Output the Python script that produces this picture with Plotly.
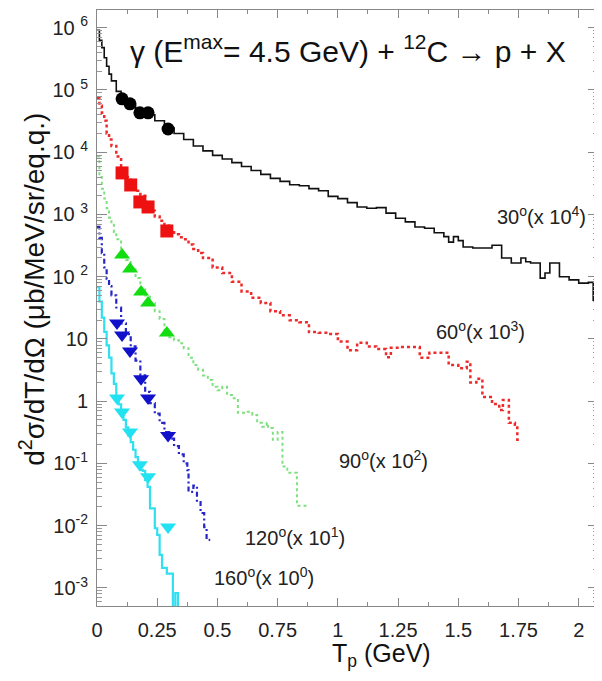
import plotly.graph_objects as go

# ---------------- data ----------------
# 30 deg (x 10^4) histogram: bin left edges (GeV) and values
x30 = [0.00, 0.01, 0.02, 0.03, 0.04, 0.05, 0.06, 0.08, 0.10, 0.12, 0.14, 0.16, 0.18, 0.20,
       0.24, 0.28, 0.32, 0.36, 0.40, 0.44, 0.48, 0.52, 0.56, 0.60, 0.64, 0.68, 0.72, 0.76,
       0.80, 0.84, 0.88, 0.92, 0.96, 1.00, 1.04, 1.08, 1.12, 1.16, 1.20, 1.24, 1.28, 1.32,
       1.36, 1.40, 1.44, 1.46, 1.48, 1.50, 1.52, 1.56, 1.60, 1.64, 1.68, 1.72, 1.76, 1.78,
       1.80, 1.84, 1.86, 1.88, 1.92, 1.96, 2.00, 2.04, 2.06]
y30 = [9.1e5, 6.3e5, 4.8e5, 3.3e5, 2.4e5, 1.8e5, 1.4e5, 9.5e4, 7.2e4, 6.3e4, 5.6e4, 5.1e4, 4.7e4, 4.0e4,
       3.2e4, 2.45e4, 2.0e4, 1.6e4, 1.26e4, 1.05e4, 8900, 7800, 6800, 5900, 5100, 4400, 3800, 3400,
       3000, 2900, 2600, 2400, 1950, 1800, 1550, 1320, 1260, 1290, 1050, 870, 760, 630,
       600, 510, 440, 360, 440, 380, 300, 290, 290, 320, 200, 166, 200, 174,
       166, 95, 115, 166, 100, 89, 79, 81, 42]
x30_end = 2.09

# 60 deg (x 10^3)
x60 = [0.00, 0.01, 0.02, 0.03, 0.04, 0.05, 0.06, 0.08, 0.10, 0.12, 0.14, 0.16, 0.18, 0.20,
       0.22, 0.24, 0.26, 0.28, 0.30, 0.32, 0.34, 0.36, 0.38, 0.40, 0.42, 0.44, 0.48, 0.52,
       0.56, 0.60, 0.64, 0.68, 0.72, 0.76, 0.80, 0.84, 0.88, 0.92, 0.96, 1.00, 1.04, 1.08,
       1.12, 1.16, 1.20, 1.22, 1.26, 1.30, 1.34, 1.38, 1.42, 1.46, 1.50, 1.535, 1.55, 1.575,
       1.60, 1.64, 1.67, 1.685, 1.71, 1.735, 1.745]
y60 = [74000, 56000, 43000, 32000, 20000, 16000, 12600, 8500, 5500, 4000, 3000, 2400, 2000, 1480,
       1150, 930, 790, 660, 575, 480, 430, 400, 330, 280, 240, 200, 141, 115,
       83, 58, 46, 38, 28, 24, 20, 18.6, 12.9, 12.6, 12, 9.1, 6.6, 8.7,
       7.6, 6.9, 5.1, 7.2, 7.4, 7.4, 5.0, 6.0, 6.0, 3.8, 3.4, 4.3, 2.0, 2.3,
       1.17, 0.9, 0.72, 1.05, 0.45, 0.42, 0.24]
x60_end = 1.755

# 90 deg (x 10^2)
x90 = [0.00, 0.01, 0.02, 0.03, 0.04, 0.05, 0.06, 0.07, 0.08, 0.10, 0.12, 0.14, 0.16, 0.18,
       0.20, 0.22, 0.24, 0.26, 0.28, 0.30, 0.32, 0.34, 0.36, 0.38, 0.40, 0.42, 0.44, 0.46,
       0.48, 0.50, 0.52, 0.54, 0.56, 0.585, 0.62, 0.645, 0.665, 0.685, 0.705, 0.71, 0.73,
       0.75, 0.77, 0.79, 0.83]
y90 = [8500, 4000, 2600, 1800, 1260, 890, 710, 525, 400, 250, 186, 132, 95, 66,
       50, 38, 28, 21, 14, 10.7, 9.5, 8.5, 7.1, 5.0, 3.8, 3.2, 2.6, 2.2,
       1.7, 1.5, 1.7, 1.26, 1.12, 0.65, 0.68, 0.60, 0.45, 0.39, 0.45, 0.37, 0.24,
       0.32, 0.089, 0.071, 0.021]
x90_end = 0.87

# 120 deg (x 10^1)
x120 = [0.00, 0.01, 0.02, 0.03, 0.04, 0.05, 0.06, 0.08, 0.10, 0.12, 0.14, 0.16, 0.18, 0.20,
        0.22, 0.24, 0.26, 0.28, 0.30, 0.32, 0.34, 0.36, 0.375, 0.38, 0.40, 0.415, 0.43,
        0.445, 0.455]
y120 = [630, 420, 240, 141, 93, 71, 50, 32, 17.8, 12, 7.6, 4.5, 2.6, 1.41,
        0.93, 0.63, 0.45, 0.32, 0.25, 0.19, 0.14, 0.10, 0.078, 0.035, 0.044, 0.024, 0.016,
        0.0095, 0.0059]
x120_end = 0.47

# 160 deg (x 10^0)
x160 = [0.00, 0.01, 0.02, 0.03, 0.04, 0.05, 0.06, 0.07, 0.08, 0.09, 0.10, 0.11, 0.12, 0.13,
        0.14, 0.15, 0.16, 0.17, 0.18, 0.19, 0.20, 0.21, 0.22, 0.24, 0.25, 0.26, 0.27, 0.29,
        0.315, 0.325, 0.336]
y160 = [68, 40, 22, 13, 7.9, 5.0, 2.8, 1.9, 1.2, 0.89, 0.66, 0.50, 0.38, 0.28,
        0.22, 0.166, 0.126, 0.095, 0.079, 0.076, 0.054, 0.042, 0.019, 0.0091, 0.0071, 0.0034,
        0.0021, 0.0017, 1e-5, 0.00083, 1e-5]
x160_end = 0.34

# measured points
xm30 = [0.104, 0.137, 0.178, 0.212, 0.295]
ym30 = [7.2e4, 6.0e4, 4.3e4, 4.3e4, 2.36e4]
xm60 = [0.104, 0.140, 0.178, 0.212, 0.290]
ym60 = [4650, 2980, 1590, 1320, 543]
xm90 = [0.104, 0.137, 0.183, 0.212, 0.290]
ym90 = [223, 133, 57, 38, 12.5]
xm120 = [0.083, 0.104, 0.137, 0.183, 0.212, 0.295]
ym120 = [18, 11.6, 6.4, 2.3, 1.13, 0.28]
xm160 = [0.083, 0.104, 0.137, 0.178, 0.212, 0.295]
ym160 = [1.13, 0.67, 0.32, 0.095, 0.061, 0.0095]

# axis ticks
ytickvals = [1e-3, 1e-2, 1e-1, 1, 10, 1e2, 1e3, 1e4, 1e5, 1e6]
yticktext = ["10<sup>-3</sup>", "10<sup>-2</sup>", "10<sup>-1</sup>", "1", "10",
             "10 <sup>2</sup>", "10 <sup>3</sup>", "10 <sup>4</sup>", "10 <sup>5</sup>", "10 <sup>6</sup>"]
xtickvals = [0, 0.25, 0.5, 0.75, 1, 1.25, 1.5, 1.75, 2]
xticktext = ["0", "0.25", "0.5", "0.75", "1", "1.25", "1.5", "1.75", "2"]

curve_labels = ["30<sup>o</sup>(x 10<sup>4</sup>)", "60<sup>o</sup>(x 10<sup>3</sup>)",
                "90<sup>o</sup>(x 10<sup>2</sup>)", "120<sup>o</sup>(x 10<sup>1</sup>)",
                "160<sup>o</sup>(x 10<sup>0</sup>)"]

# ---------------- figure ----------------
fig = go.Figure()

def add_hist(xs, ys, xend, color, width, dash):
    fig.add_trace(go.Scatter(x=list(xs) + [xend], y=list(ys) + [ys[-1]], mode="lines",
                             line=dict(color=color, width=width, dash=dash, shape="hv"),
                             showlegend=False, hoverinfo="skip"))

add_hist(x30, y30, x30_end, "#111111", 1.6, "solid")
add_hist(x60, y60, x60_end, "#ee2a2a", 2.5, "dot")
add_hist(x90, y90, x90_end, "#7fe07f", 2.0, "dot")
add_hist(x120, y120, x120_end, "#2626c8", 2.2, "5px,3px,2px,3px")
add_hist(x160, y160, x160_end, "#30e0f0", 2.2, "solid")

def add_pts(xs, ys, color, symbol, size):
    fig.add_trace(go.Scatter(x=xs, y=ys, mode="markers",
                             marker=dict(color=color, symbol=symbol, size=size, line=dict(width=0)),
                             showlegend=False, cliponaxis=True))

add_pts(xm30, ym30, "#000000", "circle", 13)
add_pts(xm60, ym60, "#ee1111", "square", 13)
add_pts(xm90, ym90, "#11dd11", "triangle-up", 14)
add_pts(xm120, ym120, "#1111cc", "triangle-down", 14)
add_pts(xm160, ym160, "#22e2f2", "triangle-down", 14)

minor_y = [m * 10.0 ** e for e in range(-4, 7) for m in range(2, 10)]

# the page body adds an 8px offset, so the figure is 8px smaller than the window
fig.update_layout(
    width=594, height=673,
    margin=dict(l=89, r=4, t=2, b=75, autoexpand=False),
    paper_bgcolor="white", plot_bgcolor="white",
    font=dict(family="Liberation Sans, Arial, sans-serif", color="#222222"),
    xaxis=dict(range=[0, 2.08], tickmode="array", tickvals=xtickvals, ticktext=xticktext,
               automargin=False, ticklabelstandoff=6,
               ticks="inside", ticklen=8, tickcolor="#888888", showgrid=False, zeroline=False,
               showline=True, linecolor="#888888", linewidth=1, mirror="ticks",
               tickfont=dict(size=20),
               minor=dict(ticks="inside", ticklen=4, tickcolor="#888888", dtick=0.125, showgrid=False)),
    yaxis=dict(type="log", range=[-3.29, 6.285], tickmode="array", tickvals=ytickvals,
               automargin=False, ticklabelstandoff=4,
               ticktext=yticktext, ticks="inside", ticklen=10, tickcolor="#888888",
               showgrid=False, zeroline=False, showline=True, linecolor="#888888", linewidth=1,
               mirror="ticks", tickfont=dict(size=20),
               minor=dict(ticks="inside", ticklen=5, tickcolor="#999999", tickmode="array",
                          tickvals=minor_y, showgrid=False)),
)

ann = []
ann.append(dict(text="γ (E<sup>max</sup>= 4.5 GeV) + <sup>12</sup>C → p + X",
                x=0.50, y=0.935, xref="paper", yref="paper", showarrow=False,
                font=dict(size=30, color="#111111"), xanchor="center", yanchor="middle"))
label_pos = [(0.888, 0.656), (0.766, 0.463), (0.571, 0.245), (0.395, 0.116), (0.333, 0.050)]
for t, (px, py) in zip(curve_labels, label_pos):
    ann.append(dict(text=t, x=px, y=py, xref="paper", yref="paper", showarrow=False,
                    font=dict(size=20, color="#222222"), xanchor="center", yanchor="middle"))
ann.append(dict(text="d<sup>2</sup>σ/dT/dΩ (μb/MeV/sr/eq.q.)", x=-0.13, y=0.532,
                xref="paper", yref="paper", showarrow=False, textangle=-90,
                font=dict(size=28, color="#111111"), xanchor="center", yanchor="middle"))
ann.append(dict(text="T<sub>p</sub> (GeV)", x=0.567, y=-0.083, xref="paper", yref="paper",
                showarrow=False, font=dict(size=25, color="#111111"),
                xanchor="center", yanchor="middle"))
fig.update_layout(annotations=ann)

fig.write_html("out.html")
